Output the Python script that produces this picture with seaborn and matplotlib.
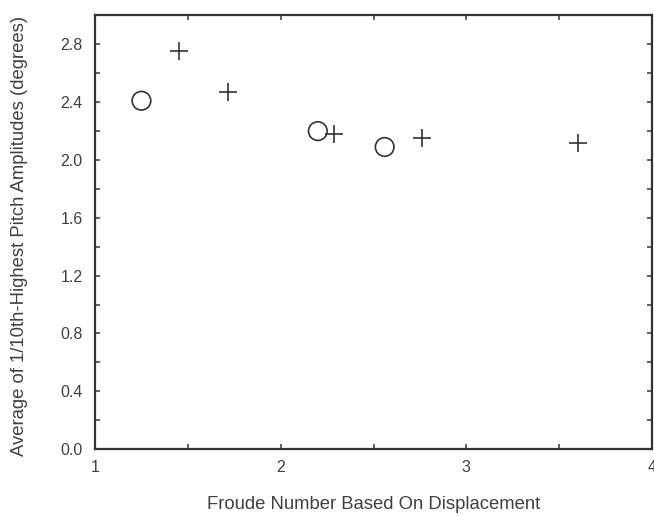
import matplotlib
matplotlib.use("Agg")
import matplotlib.pyplot as plt
import seaborn as sns
import pandas as pd
from matplotlib.ticker import MultipleLocator

circle_x = [1.25, 2.20, 2.56]
circle_y = [2.41, 2.20, 2.09]
plus_x = [1.452, 1.718, 2.285, 2.763, 3.60]
plus_y = [2.756, 2.47, 2.18, 2.15, 2.12]
x_ticks = [1, 2, 3, 4]
y_ticks = [0.0, 0.4, 0.8, 1.2, 1.6, 2.0, 2.4, 2.8]

sns.set_style("ticks")
plt.rcParams['font.family'] = ['Liberation Sans', 'DejaVu Sans']

df = pd.DataFrame({
    "x": circle_x + plus_x,
    "y": circle_y + plus_y,
    "kind": ["circle"] * len(circle_x) + ["plus"] * len(plus_x),
})

col = "#333333"
txt = "#404040"
fig = plt.figure(figsize=(6.54, 5.16), dpi=100)
ax = fig.add_axes([0.1453, 0.1298, 0.997 - 0.1453, 0.970 - 0.1298])

sns.scatterplot(data=df[df.kind == "circle"], x="x", y="y", ax=ax, marker="o",
                s=180, facecolor="none", edgecolor=col, linewidth=1.2, legend=False)
sns.scatterplot(data=df[df.kind == "plus"], x="x", y="y", ax=ax, marker="+",
                s=150, color=col, linewidth=1.2, legend=False)

ax.set_xlim(1, 4)
ax.set_ylim(0, 3.0)
ax.set_xticks(x_ticks)
ax.set_xticklabels([str(t) for t in x_ticks])
ax.set_yticks(y_ticks)
ax.set_yticklabels([f"{t:.1f}" for t in y_ticks])
ax.xaxis.set_minor_locator(MultipleLocator(0.5))
ax.yaxis.set_minor_locator(MultipleLocator(0.2))
ax.tick_params(which="both", direction="in", top=True, right=True, length=3.8,
               width=1.1, color=col, labelcolor=txt, labelsize=11.5)
ax.tick_params(axis="x", which="major", pad=8)
ax.tick_params(axis="y", which="major", pad=9)
for s in ax.spines.values():
    s.set_color(col)
    s.set_linewidth(1.6)
    s.set_visible(True)

ax.set_xlabel("Froude Number Based On Displacement", fontsize=13.3, color=txt)
ax.xaxis.label.set_va("baseline")
ax.xaxis.set_label_coords(0.5, -0.139)
ax.set_ylabel("Average of 1/10th-Highest Pitch Amplitudes (degrees)", fontsize=13.3,
              color=txt)
ax.yaxis.label.set_va("center")
ax.yaxis.set_label_coords(-0.1364, 0.491)

fig.savefig("out.png", dpi=100)
